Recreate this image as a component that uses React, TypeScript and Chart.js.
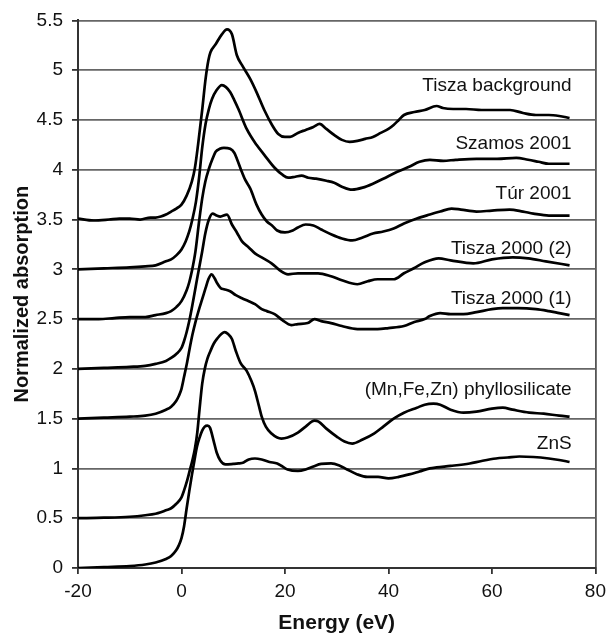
import React, { useEffect, useRef } from "react";
import { Chart, registerables } from "chart.js";

Chart.register(...registerables);

// Energy (eV), normalized absorption pairs for each spectrum
const tiszaBackground: [number, number][] = [
  [-20, 3.51], [-17, 3.49], [-14, 3.5], [-12, 3.51], [-10, 3.51], [-8, 3.5], [-6, 3.52], [-5, 3.52], [-4, 3.53],
  [-3, 3.55], [-2, 3.58], [-1, 3.61], [0, 3.65], [1, 3.74], [2, 3.88], [2.6, 4.02], [3.2, 4.25], [4, 4.6],
  [4.65, 4.91], [5.2, 5.1], [5.6, 5.18], [6.6, 5.26], [7.8, 5.36], [8.8, 5.41], [9.75, 5.36], [10.7, 5.15],
  [11.7, 5.05], [13.3, 4.91], [14.5, 4.78], [16, 4.6], [17.5, 4.45], [18.7, 4.36], [20, 4.33], [21, 4.33],
  [22.5, 4.37], [24, 4.4], [25.5, 4.43], [26.7, 4.46], [28, 4.41], [29.5, 4.35], [31, 4.3], [32.5, 4.28],
  [34, 4.29], [35.5, 4.31], [37, 4.33], [38.5, 4.37], [40, 4.41], [41, 4.45], [42, 4.5], [43, 4.55],
  [45, 4.58], [47, 4.6], [49.3, 4.64], [50.5, 4.62], [52.5, 4.61], [55, 4.61], [58, 4.6], [61, 4.6],
  [63.5, 4.6], [66, 4.57], [68.5, 4.55], [71, 4.55], [73, 4.54], [75, 4.52],
];

const szamos2001: [number, number][] = [
  [-20, 3.0], [-15, 3.01], [-10, 3.02], [-7, 3.03], [-5, 3.04], [-3, 3.08], [-2, 3.1], [-1, 3.14], [0, 3.2],
  [0.8, 3.28], [1.5, 3.38], [2.1, 3.5], [2.8, 3.68], [3.4, 3.92], [4, 4.22], [4.65, 4.46], [5.3, 4.61],
  [5.9, 4.71], [6.8, 4.8], [7.8, 4.85], [8.6, 4.83], [9.4, 4.78], [10.2, 4.7], [11, 4.61], [12.6, 4.41],
  [14.5, 4.25], [16, 4.15], [18, 4.02], [19.5, 3.95], [20.6, 3.92], [22, 3.93], [23.2, 3.94], [24.5, 3.92],
  [26, 3.91], [28, 3.89], [29.5, 3.87], [31, 3.83], [33, 3.8], [35, 3.82], [37, 3.86], [39, 3.91],
  [41.7, 3.98], [44, 4.03], [46, 4.08], [48, 4.1], [50.6, 4.09], [53, 4.1], [57, 4.11], [61, 4.11],
  [64.7, 4.12], [67, 4.1], [69, 4.08], [71, 4.06], [73, 4.06], [75, 4.06],
];

const tur2001: [number, number][] = [
  [-20, 2.5], [-16, 2.5], [-13, 2.51], [-10, 2.52], [-7, 2.52], [-5, 2.54], [-3, 2.56], [-2, 2.58], [-1, 2.62],
  [0, 2.68], [1, 2.79], [1.5, 2.87], [2, 2.98], [2.7, 3.18], [3.4, 3.48], [4, 3.71], [4.6, 3.88], [5.3, 4.01],
  [6, 4.11], [6.6, 4.18], [7.4, 4.21], [8.2, 4.22], [9.4, 4.21], [10.2, 4.17], [10.7, 4.11], [11.5, 4.0],
  [12.3, 3.9], [13.3, 3.81], [14.5, 3.65], [15.5, 3.55], [16.5, 3.48], [17.5, 3.44], [18.5, 3.39], [20, 3.37],
  [21.5, 3.39], [22.5, 3.42], [24, 3.45], [25.5, 3.44], [27, 3.4], [29, 3.35], [31, 3.31], [33, 3.29],
  [35, 3.32], [37, 3.36], [39, 3.38], [41, 3.41], [43, 3.46], [45.5, 3.51], [48, 3.55], [50, 3.58],
  [52.2, 3.61], [54, 3.6], [57, 3.58], [60, 3.59], [63.4, 3.6], [66, 3.58], [68, 3.56], [71, 3.54],
  [73, 3.54], [75, 3.54],
];

const tisza2000b: [number, number][] = [
  [-20, 2.0], [-15, 2.01], [-10, 2.02], [-7, 2.03], [-5, 2.05], [-3, 2.08], [-2, 2.11], [-1, 2.15], [0, 2.21],
  [0.5, 2.28], [1, 2.37], [1.5, 2.48], [2.1, 2.64], [3, 2.9], [4, 3.18], [4.6, 3.36], [5.3, 3.5], [6, 3.56],
  [6.8, 3.54], [7.5, 3.53], [8.8, 3.55], [9.75, 3.45], [10.7, 3.37], [11.7, 3.28], [13, 3.22], [14.2, 3.16],
  [15.5, 3.12], [17.4, 3.06], [19, 2.99], [20.6, 2.95], [22.5, 2.96], [24.4, 2.96], [26.4, 2.96], [28.9, 2.93],
  [31, 2.89], [34, 2.85], [36, 2.88], [37.9, 2.9], [41, 2.9], [43, 2.96], [44.9, 3.01], [47, 3.07],
  [49.7, 3.11], [52, 3.09], [56.4, 3.06], [60, 3.1], [64, 3.12], [67, 3.11], [70.4, 3.08], [75, 3.04],
];

const tisza2000a: [number, number][] = [
  [-20, 1.5], [-15, 1.51], [-10, 1.52], [-7, 1.53], [-5, 1.55], [-3, 1.59], [-2, 1.62], [-1, 1.68], [-0.5, 1.73],
  [0, 1.8], [0.5, 1.92], [1.1, 2.07], [1.6, 2.21], [2.1, 2.34], [2.7, 2.47], [3.4, 2.6], [4, 2.7], [4.65, 2.81],
  [5.2, 2.9], [5.8, 2.95], [6.4, 2.91], [6.9, 2.86], [7.6, 2.81], [8.2, 2.8], [9.4, 2.78], [10.5, 2.74],
  [11.7, 2.71], [13, 2.68], [14.2, 2.65], [15.5, 2.6], [16.5, 2.58], [18, 2.55], [19.5, 2.49], [21.2, 2.44],
  [22.5, 2.45], [24.4, 2.46], [25.7, 2.5], [27, 2.48], [28.9, 2.46], [31, 2.43], [34, 2.4], [36, 2.4],
  [37.9, 2.4], [40, 2.41], [43, 2.43], [45, 2.47], [47, 2.5], [48, 2.53], [50, 2.56], [52, 2.55],
  [54.5, 2.55], [57, 2.57], [60, 2.6], [62.1, 2.61], [65, 2.61], [68.5, 2.6], [71, 2.58], [73, 2.56], [75, 2.54],
];

const phyllosilicate: [number, number][] = [
  [-20, 0.5], [-15, 0.505], [-10, 0.515], [-7, 0.53], [-5, 0.545], [-4, 0.56], [-3, 0.58], [-2, 0.6],
  [-1, 0.645], [0, 0.71], [0.5, 0.78], [1.1, 0.88], [1.6, 0.98], [2.1, 1.08], [2.6, 1.2], [3.05, 1.36],
  [3.5, 1.6], [4, 1.85], [4.5, 2.0], [5, 2.1], [5.6, 2.18], [6.2, 2.25], [7, 2.31], [7.7, 2.35], [8.35, 2.37],
  [9, 2.35], [9.75, 2.3], [10.5, 2.18], [11.4, 2.06], [12.6, 1.98], [13.5, 1.88], [14.2, 1.78], [15, 1.62],
  [15.5, 1.52], [16.3, 1.42], [17.4, 1.35], [18.5, 1.31], [19.3, 1.3], [20.5, 1.31], [22.5, 1.36], [24, 1.42],
  [25.7, 1.48], [26.5, 1.47], [28, 1.4], [30, 1.32], [31.5, 1.27], [33, 1.25], [35, 1.29], [37.2, 1.35],
  [39, 1.42], [41, 1.5], [43, 1.56], [45.5, 1.61], [47, 1.64], [48.7, 1.65], [50, 1.64], [52, 1.59],
  [54.5, 1.56], [57, 1.57], [60, 1.6], [62.1, 1.61], [64, 1.59], [67.2, 1.56], [70, 1.55], [73, 1.53], [75, 1.52],
];

const zns: [number, number][] = [
  [-20, 0], [-15, 0.01], [-10, 0.02], [-7, 0.035], [-5, 0.055], [-3, 0.09], [-2, 0.12], [-1, 0.18], [-0.5, 0.23],
  [0, 0.3], [0.5, 0.42], [1, 0.6], [1.5, 0.77], [2, 0.93], [2.5, 1.08], [3, 1.22], [3.5, 1.31], [4, 1.38],
  [4.5, 1.42], [5, 1.43], [5.5, 1.41], [6.2, 1.28], [6.8, 1.16], [7.5, 1.08], [8.5, 1.04], [10, 1.045],
  [11, 1.05], [12, 1.06], [13, 1.09], [14.2, 1.1], [15.5, 1.09], [17, 1.065], [18.5, 1.05], [19.5, 1.02],
  [20.5, 0.99], [22.5, 0.975], [24, 0.99], [25.5, 1.02], [27, 1.045], [28.9, 1.05], [30.5, 1.03], [32, 0.99],
  [34, 0.94], [35.9, 0.915], [38, 0.915], [40, 0.9], [42, 0.915], [44, 0.94], [46, 0.97], [48, 1.0],
  [49.3, 1.01], [52, 1.025], [55.7, 1.05], [58, 1.075], [60.8, 1.1], [63, 1.11], [65.3, 1.12], [68, 1.115],
  [71, 1.1], [73, 1.085], [75, 1.065],
];

const seriesNames = [
  "Tisza background",
  "Szamos 2001",
  "Túr 2001",
  "Tisza 2000 (2)",
  "Tisza 2000 (1)",
  "(Mn,Fe,Zn) phyllosilicate",
  "ZnS",
];
const seriesData = [tiszaBackground, szamos2001, tur2001, tisza2000b, tisza2000a, phyllosilicate, zns];

// curve label anchors (right edge energy, absorption level)
const labelEnergy = 75.4;
const labelLevels = [4.84, 4.26, 3.76, 3.21, 2.7, 1.79, 1.25];

const xTicksMin = -20;
const xTicksMax = 80;
const xTickStep = 20;
const yTicksMin = 0;
const yTicksMax = 5.5;
const yTickStep = 0.5;

const FONT = "'Liberation Sans', Arial, Helvetica, sans-serif";

const curveLabels = {
  id: "curveLabels",
  afterDatasetsDraw(chart: any) {
    const { ctx, scales } = chart;
    ctx.save();
    ctx.font = `19px ${FONT}`;
    ctx.fillStyle = "#111";
    ctx.textAlign = "right";
    ctx.textBaseline = "middle";
    seriesNames.forEach((name, i) => {
      ctx.fillText(name, scales.x.getPixelForValue(labelEnergy), scales.y.getPixelForValue(labelLevels[i]));
    });
    ctx.restore();
  },
};

export default function App() {
  const ref = useRef<HTMLCanvasElement | null>(null);
  useEffect(() => {
    if (!ref.current) return;
    Chart.defaults.font.family = FONT;
    const chart = new Chart(ref.current, {
      type: "line",
      data: {
        datasets: seriesData.map((d, i) => ({
          label: seriesNames[i],
          data: d.map(([x, y]) => ({ x, y })),
          borderColor: "#000",
          borderWidth: 2.7,
          pointRadius: 0,
          fill: false,
          cubicInterpolationMode: "monotone" as const,
        })),
      },
      options: {
        animation: false,
        responsive: false,
        layout: { padding: { top: 17, right: 12, left: 0, bottom: 0 } },
        plugins: { legend: { display: false }, tooltip: { enabled: false } },
        scales: {
          x: {
            type: "linear",
            min: xTicksMin,
            max: xTicksMax,
            afterFit: (s: any) => {
              s.height = 68;
            },
            ticks: {
              stepSize: xTickStep,
              color: "#111",
              font: { size: 19 },
              padding: 6,
              maxRotation: 0,
            },
            grid: {
              color: (c: any) => (c.tick && c.tick.value === xTicksMax ? "#555" : "rgba(0,0,0,0)"),
              lineWidth: 1.8,
              tickColor: "#333",
              tickLength: 6,
            },
            border: { color: "#333", width: 2 },
            title: {
              display: true,
              text: "Energy (eV)",
              color: "#111",
              font: { size: 21, weight: "bold" },
              padding: { top: 0, bottom: 0 },
            },
          },
          y: {
            min: yTicksMin,
            max: yTicksMax,
            afterFit: (s: any) => {
              s.width = 78;
            },
            ticks: {
              stepSize: yTickStep,
              color: "#111",
              font: { size: 19 },
              padding: 9,
              callback: (v: any) => String(Math.round(Number(v) * 10) / 10),
            },
            grid: {
              color: "#666",
              lineWidth: 1.8,
              tickColor: "#333",
              tickLength: 6,
            },
            border: { color: "#333", width: 2 },
            title: {
              display: true,
              text: "Normalized absorption",
              color: "#111",
              font: { size: 20, weight: "bold" },
              padding: { top: 10, bottom: 0 },
            },
          },
        },
      },
      plugins: [curveLabels],
    });
    return () => chart.destroy();
  }, []);
  return (
    <div style={{ position: "absolute", left: 0, top: 0, width: 612, height: 636, background: "#fff" }}>
      <canvas ref={ref} width={612} height={636} style={{ display: "block" }} />
    </div>
  );
}
